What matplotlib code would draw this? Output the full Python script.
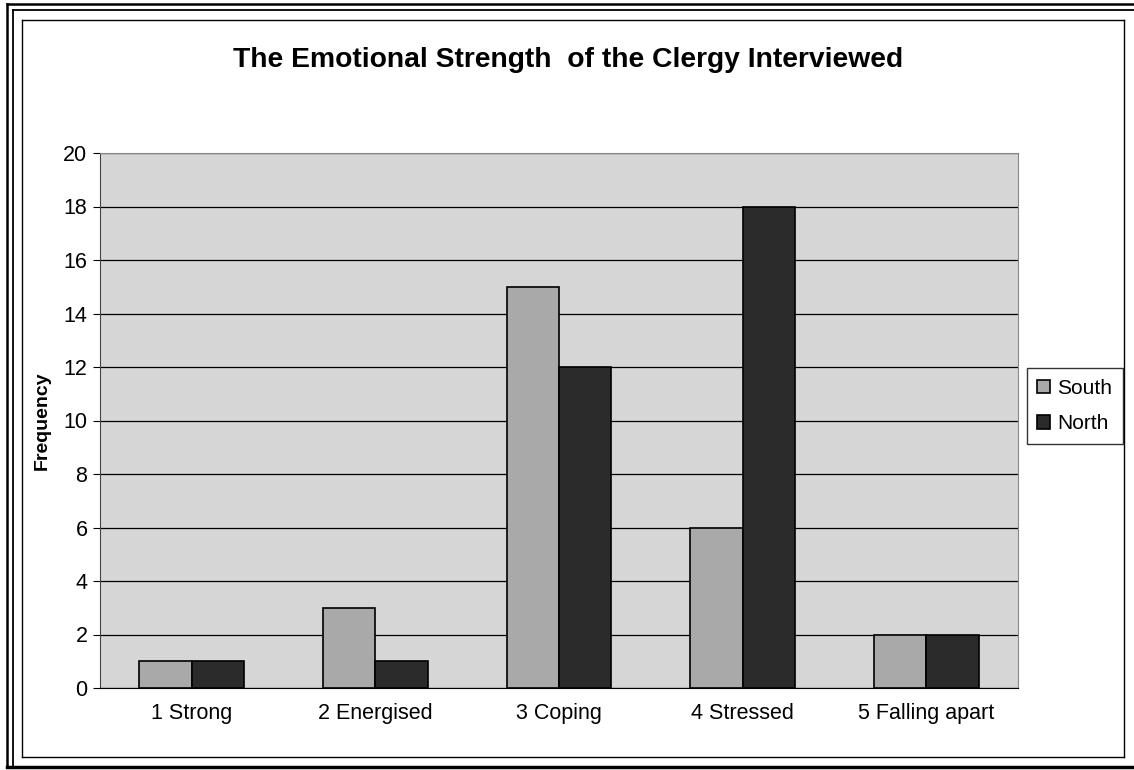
import matplotlib.pyplot as plt
import numpy as np
from matplotlib.lines import Line2D

plt.rcParams["font.family"] = ["Liberation Sans", "DejaVu Sans"]

categories = ["1 Strong", "2 Energised", "3 Coping", "4 Stressed", "5 Falling apart"]
south = [1, 3, 15, 6, 2]
north = [1, 1, 12, 18, 2]
yticks = [0, 2, 4, 6, 8, 10, 12, 14, 16, 18, 20]

W, H = 1134, 770
fig = plt.figure(figsize=(W / 100, H / 100), dpi=100)
ax = fig.add_axes([100 / W, 1 - 688 / H, 918 / W, 535 / H])
ax.set_facecolor("#d6d6d6")

x = np.arange(len(categories))
w = 0.285
ax.bar(x - w / 2, south, w, color="#a9a9a9", edgecolor="black", linewidth=1.2, label="South", zorder=3)
ax.bar(x + w / 2, north, w, color="#2b2b2b", edgecolor="black", linewidth=1.2, label="North", zorder=3)

ax.set_xlim(-0.5, len(categories) - 0.5)
ax.set_ylim(0, 20)
ax.set_yticks(yticks)
ax.set_xticks(x)
ax.set_xticklabels(categories, fontsize=15.5)
ax.tick_params(axis="y", labelsize=15.5, length=5, direction="out", pad=4)
ax.tick_params(axis="x", length=0, pad=11)
ax.yaxis.grid(True, color="black", linewidth=0.9, zorder=1)
ax.set_axisbelow(True)
for s in ["top", "right"]:
    ax.spines[s].set_color("#888888")
ax.spines["left"].set_color("#444444")
ax.spines["bottom"].set_color("black")
ax.set_ylabel("Frequency", fontsize=14, fontweight="bold", labelpad=9)

fig.text(568 / W, 1 - 60 / H, "The Emotional Strength  of the Clergy Interviewed",
         ha="center", va="center", fontsize=20.3, fontweight="bold")

leg = fig.legend(loc="center left", bbox_to_anchor=(1027 / W, 1 - 406 / H), fontsize=15,
                 frameon=True, fancybox=False, edgecolor="black", handlelength=0.6,
                 handleheight=0.6, handletextpad=0.35, borderpad=0.5, labelspacing=0.8,
                 borderaxespad=0)
leg.get_frame().set_linewidth(1.0)

# frames around the figure
def fline(x0, y0, x1, y1, lw):
    fig.add_artist(Line2D([x0 / W, x1 / W], [1 - y0 / H, 1 - y1 / H],
                          transform=fig.transFigure, color="black", linewidth=lw))

for off, lw in [(0, 1.8), (6, 1.3)]:
    fline(7 + off, 4 + off, W, 4 + off, lw)
    fline(7 + off, 4 + off, 7 + off, 767, lw)
fline(7, 767, W, 767, 2.5)
fline(22, 20, 1124, 20, 1.0)
fline(22, 757, 1124, 757, 1.0)
fline(22, 20, 22, 757, 1.0)
fline(1124, 20, 1124, 757, 1.0)

fig.savefig("out.png", dpi=100)
